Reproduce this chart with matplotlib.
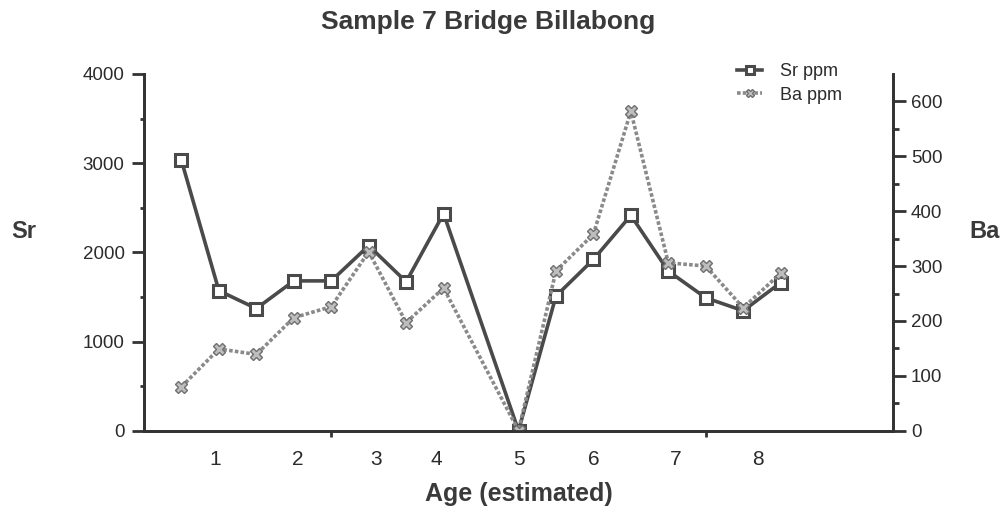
import matplotlib
matplotlib.use("Agg")
import matplotlib.pyplot as plt
import numpy as np

plt.rcParams['font.family'] = ['Liberation Sans', 'DejaVu Sans']

# sample index along the age axis (gap at index 8)
sample_idx = [0, 1, 2, 3, 4, 5, 6, 7, 9, 10, 11, 12, 13, 14, 15, 16]
sr_ppm = [3030, 1570, 1370, 1680, 1680, 2075, 1670, 2435, 0, 1510, 1920, 2415, 1790, 1490, 1345, 1660]
ba_ppm = [80, 149, 139, 206, 226, 326, 197, 260, 0, 291, 358, 582, 306, 300, 224, 287]

age_labels = ['1', '2', '3', '4', '5', '6', '7', '8']
age_label_pos = [0.9, 3.1, 5.2, 6.8, 9.0, 11.0, 13.2, 15.4]

fig = plt.figure(figsize=(10.02, 5.08), dpi=100)
ax = fig.add_axes([144/1002, 1 - 430.7/508, (893-144)/1002, (430.7-74)/508])
ax2 = ax.twinx()

sr_color = '#4a4a4a'
ba_color = '#8a8a8a'

l1, = ax.plot(sample_idx, sr_ppm, color=sr_color, lw=2.6, marker='s', ms=9,
              mfc='white', mec=sr_color, mew=2.2, label='Sr ppm', zorder=3)
l2, = ax2.plot(sample_idx, ba_ppm, color=ba_color, lw=2.6, ls=(0, (1, 0.6)),
               marker='X', ms=9, mfc='#bdbdbd', mec='#707070', mew=1, label='Ba ppm', zorder=2)

ax.set_xlim(-1, 19)
ax.set_ylim(0, 4000)
ax2.set_ylim(0, 650)

for a in (ax, ax2):
    a.spines['top'].set_visible(False)
    for s in ('left', 'right', 'bottom'):
        a.spines[s].set_linewidth(2)
        a.spines[s].set_color('#333333')

text_color = '#2b2b2b'

ax.set_yticks([0, 1000, 2000, 3000, 4000])
ax.set_yticks(np.arange(500, 4000, 1000), minor=True)
ax.tick_params(axis='y', which='major', direction='out', length=9, width=2,
               labelsize=13.5, color='#333333', labelcolor=text_color, pad=5)
ax.tick_params(axis='y', which='minor', direction='out', length=3, width=2, color='#333333')

ax2.set_yticks([0, 100, 200, 300, 400, 500, 600])
ax2.set_yticks(np.arange(50, 650, 100), minor=True)
ax2.tick_params(axis='y', which='major', direction='out', length=9, width=2,
                labelsize=13.5, color='#333333', labelcolor=text_color, pad=4)
ax2.tick_params(axis='y', which='minor', direction='out', length=4, width=2, color='#333333')

ax.set_xticks(age_label_pos)
ax.set_xticklabels(age_labels)
ax.set_xticks([4, 9, 14], minor=True)
ax.tick_params(axis='x', which='major', length=0, labelsize=15, labelcolor=text_color, pad=14)
ax.tick_params(axis='x', which='minor', direction='out', length=4, width=2, color='#333333')

fig.text(0.487, 0.957, 'Sample 7 Bridge Billabong', ha='center', va='center',
         fontsize=19, fontweight='bold', color='#3a3a3a')
fig.text(0.024, 0.545, 'Sr', ha='center', va='center', fontsize=17, fontweight='bold', color='#3a3a3a')
fig.text(0.983, 0.545, 'Ba', ha='center', va='center', fontsize=17, fontweight='bold', color='#3a3a3a')
ax.set_xlabel('Age (estimated)', fontsize=18, fontweight='bold', color='#3a3a3a', labelpad=9)

leg = ax.legend(handles=[l1, l2], loc='upper left', bbox_to_anchor=(0.77, 1.075),
                frameon=False, fontsize=13, handlelength=1.4, handletextpad=1.0,
                labelspacing=0.35, markerscale=0.7)
for t in leg.get_texts():
    t.set_color(text_color)

fig.savefig('out.png', dpi=100)
